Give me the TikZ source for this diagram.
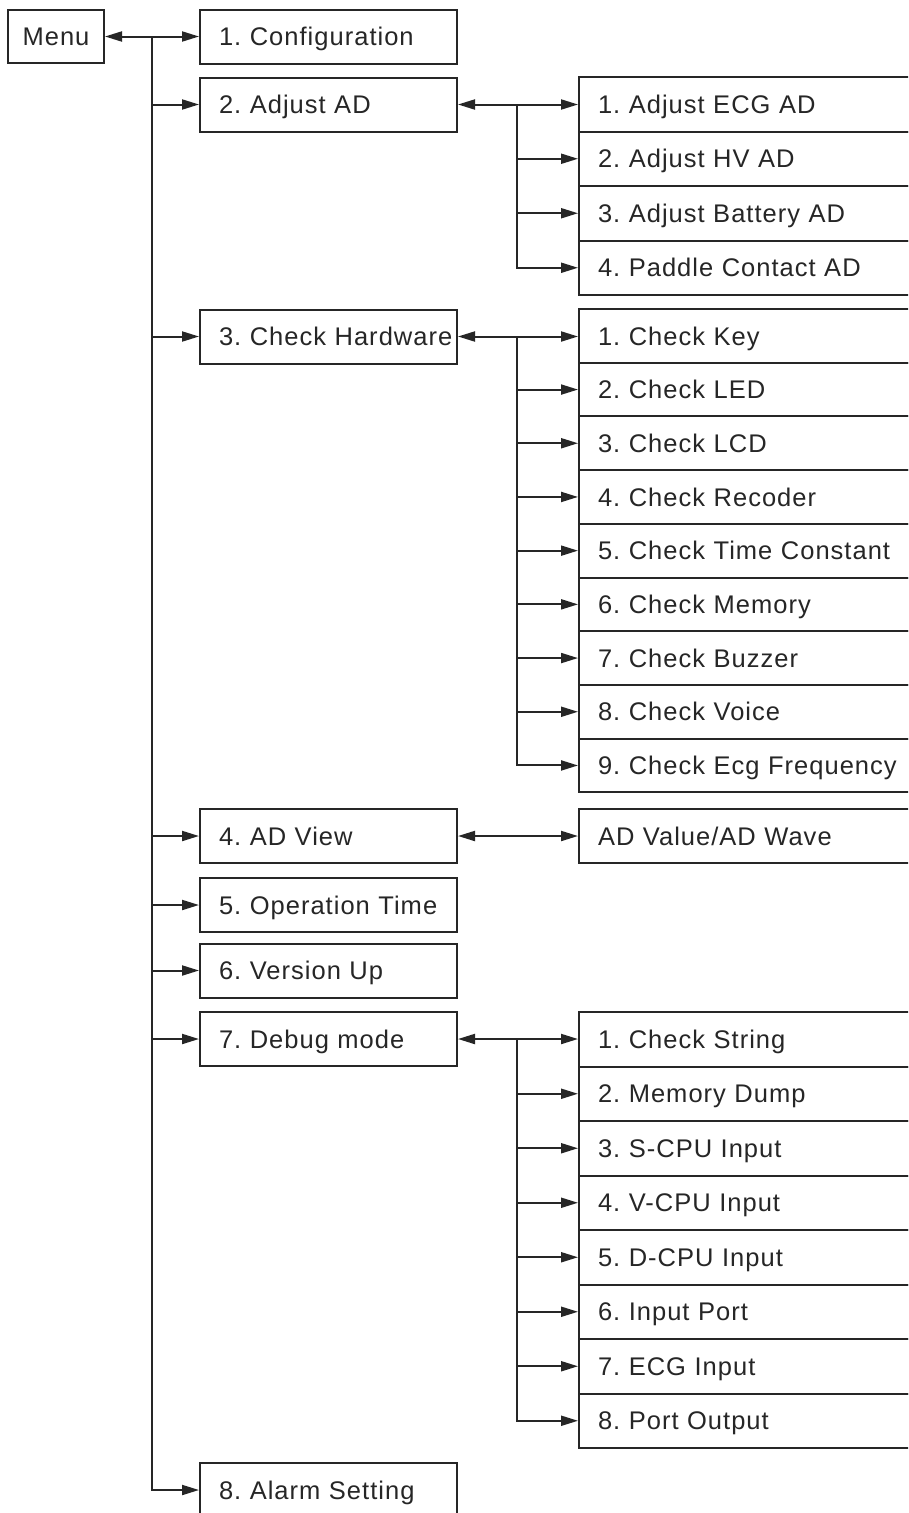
\documentclass[tikz,border=0pt]{standalone}
\usepackage{fontspec}
\setmainfont{Liberation Sans}[LetterSpace=4]
\usetikzlibrary{arrows.meta}
\newcommand{\T}[1]{\mbox{#1}}
\begin{document}
\frenchspacing
\begin{tikzpicture}[x=1pt,y=-1pt,
  line width=2pt, color={black!85},
  tip/.style={-{Triangle[length=17pt,width=10pt]}},
  both/.style={{Triangle[length=17pt,width=10pt]}-{Triangle[length=17pt,width=10pt]}},
  lbox/.style={draw, rectangle, anchor=west, minimum width=257pt, minimum height=54pt,
    text width=219pt, inner xsep=19pt, inner ysep=0pt, align=left,
    text height=18.3pt, text depth=0pt, font=\fontsize{25.5}{30}\selectfont},
  rbox/.style={lbox, minimum width=400pt, text width=362pt},
]
\useasboundingbox (0,0) rectangle (908,1513);
\clip (0,0) rectangle (908,1513);
\fill[white] (0,0) rectangle (908,1513);
\coordinate (tx) at (152,0);
\coordinate (bx) at (517,0);

\node[draw, rectangle, minimum width=96pt, minimum height=53pt, inner sep=0pt,
  text height=18.3pt, text depth=0pt, font=\fontsize{25.5}{30}\selectfont] (menu) at (56,36.5) {Menu};

\node[lbox] (c1) at (199,36.5) {\T{1. Configuration}};
\node[lbox] (c2) at (199,104.5) {\T{2. Adjust AD}};
\node[lbox] (c3) at (199,336.5) {\T{3. Check Hardware}};
\node[lbox] (c4) at (199,836) {\T{4. AD View}};
\node[lbox] (c5) at (199,905) {\T{5. Operation Time}};
\node[lbox] (c6) at (199,970.5) {\T{6. Version Up}};
\node[lbox] (c7) at (199,1039) {\T{7. Debug mode}};
\node[lbox] (c8) at (199,1490) {\T{8. Alarm Setting}};

% Adjust AD stack
\node[rbox, minimum height=54.5pt] (a1) at (578,104.25) {\T{1. Adjust ECG AD}};
\node[rbox, minimum height=54.5pt] (a2) at (578,158.75) {\T{2. Adjust HV AD}};
\node[rbox, minimum height=54.5pt] (a3) at (578,213.25) {\T{3. Adjust Battery AD}};
\node[rbox, minimum height=54.5pt] (a4) at (578,267.75) {\T{4. Paddle Contact AD}};

% Check Hardware stack
\node[rbox, minimum height=53.7pt] (h1) at (578,335.85) {\T{1. Check Key}};
\node[rbox, minimum height=53.7pt] (h2) at (578,389.55) {\T{2. Check LED}};
\node[rbox, minimum height=53.7pt] (h3) at (578,443.25) {\T{3. Check LCD}};
\node[rbox, minimum height=53.7pt] (h4) at (578,496.95) {\T{4. Check Recoder}};
\node[rbox, minimum height=53.7pt] (h5) at (578,550.65) {\T{5. Check Time Constant}};
\node[rbox, minimum height=53.7pt] (h6) at (578,604.35) {\T{6. Check Memory}};
\node[rbox, minimum height=53.7pt] (h7) at (578,658.05) {\T{7. Check Buzzer}};
\node[rbox, minimum height=53.7pt] (h8) at (578,711.75) {\T{8. Check Voice}};
\node[rbox, minimum height=53.7pt] (h9) at (578,765.45) {\T{9. Check Ecg Frequency}};

% AD view
\node[rbox] (v1) at (578,836) {\T{AD Value/AD Wave}};

% Debug stack
\node[rbox, minimum height=54.5pt] (d1) at (578,1039.25) {\T{1. Check String}};
\node[rbox, minimum height=54.5pt] (d2) at (578,1093.75) {\T{2. Memory Dump}};
\node[rbox, minimum height=54.5pt] (d3) at (578,1148.25) {\T{3. S-CPU Input}};
\node[rbox, minimum height=54.5pt] (d4) at (578,1202.75) {\T{4. V-CPU Input}};
\node[rbox, minimum height=54.5pt] (d5) at (578,1257.25) {\T{5. D-CPU Input}};
\node[rbox, minimum height=54.5pt] (d6) at (578,1311.75) {\T{6. Input Port}};
\node[rbox, minimum height=54.5pt] (d7) at (578,1366.25) {\T{7. ECG Input}};
\node[rbox, minimum height=54.5pt] (d8) at (578,1420.75) {\T{8. Port Output}};

% main trunk
\draw[both] (menu.east) -- (c1.west);
\draw[tip] (menu.east -| tx) |- (c8.west);
\foreach \n in {c2,c3,c4,c5,c6,c7} \draw[tip] (\n.west -| tx) -- (\n.west);

% Adjust AD branch
\draw[both] (c2.east) -- (c2.east -| a1.west);
\draw[tip] (c2.east -| bx) |- (a4.west);
\foreach \n in {a2,a3} \draw[tip] (\n.west -| bx) -- (\n.west);

% Check Hardware branch
\draw[both] (c3.east) -- (c3.east -| h1.west);
\draw[tip] (c3.east -| bx) |- (h9.west);
\foreach \n in {h2,h3,h4,h5,h6,h7,h8} \draw[tip] (\n.west -| bx) -- (\n.west);

% AD View
\draw[both] (c4.east) -- (v1.west);

% Debug branch
\draw[both] (c7.east) -- (c7.east -| d1.west);
\draw[tip] (c7.east -| bx) |- (d8.west);
\foreach \n in {d2,d3,d4,d5,d6,d7} \draw[tip] (\n.west -| bx) -- (\n.west);
\end{tikzpicture}
\end{document}
